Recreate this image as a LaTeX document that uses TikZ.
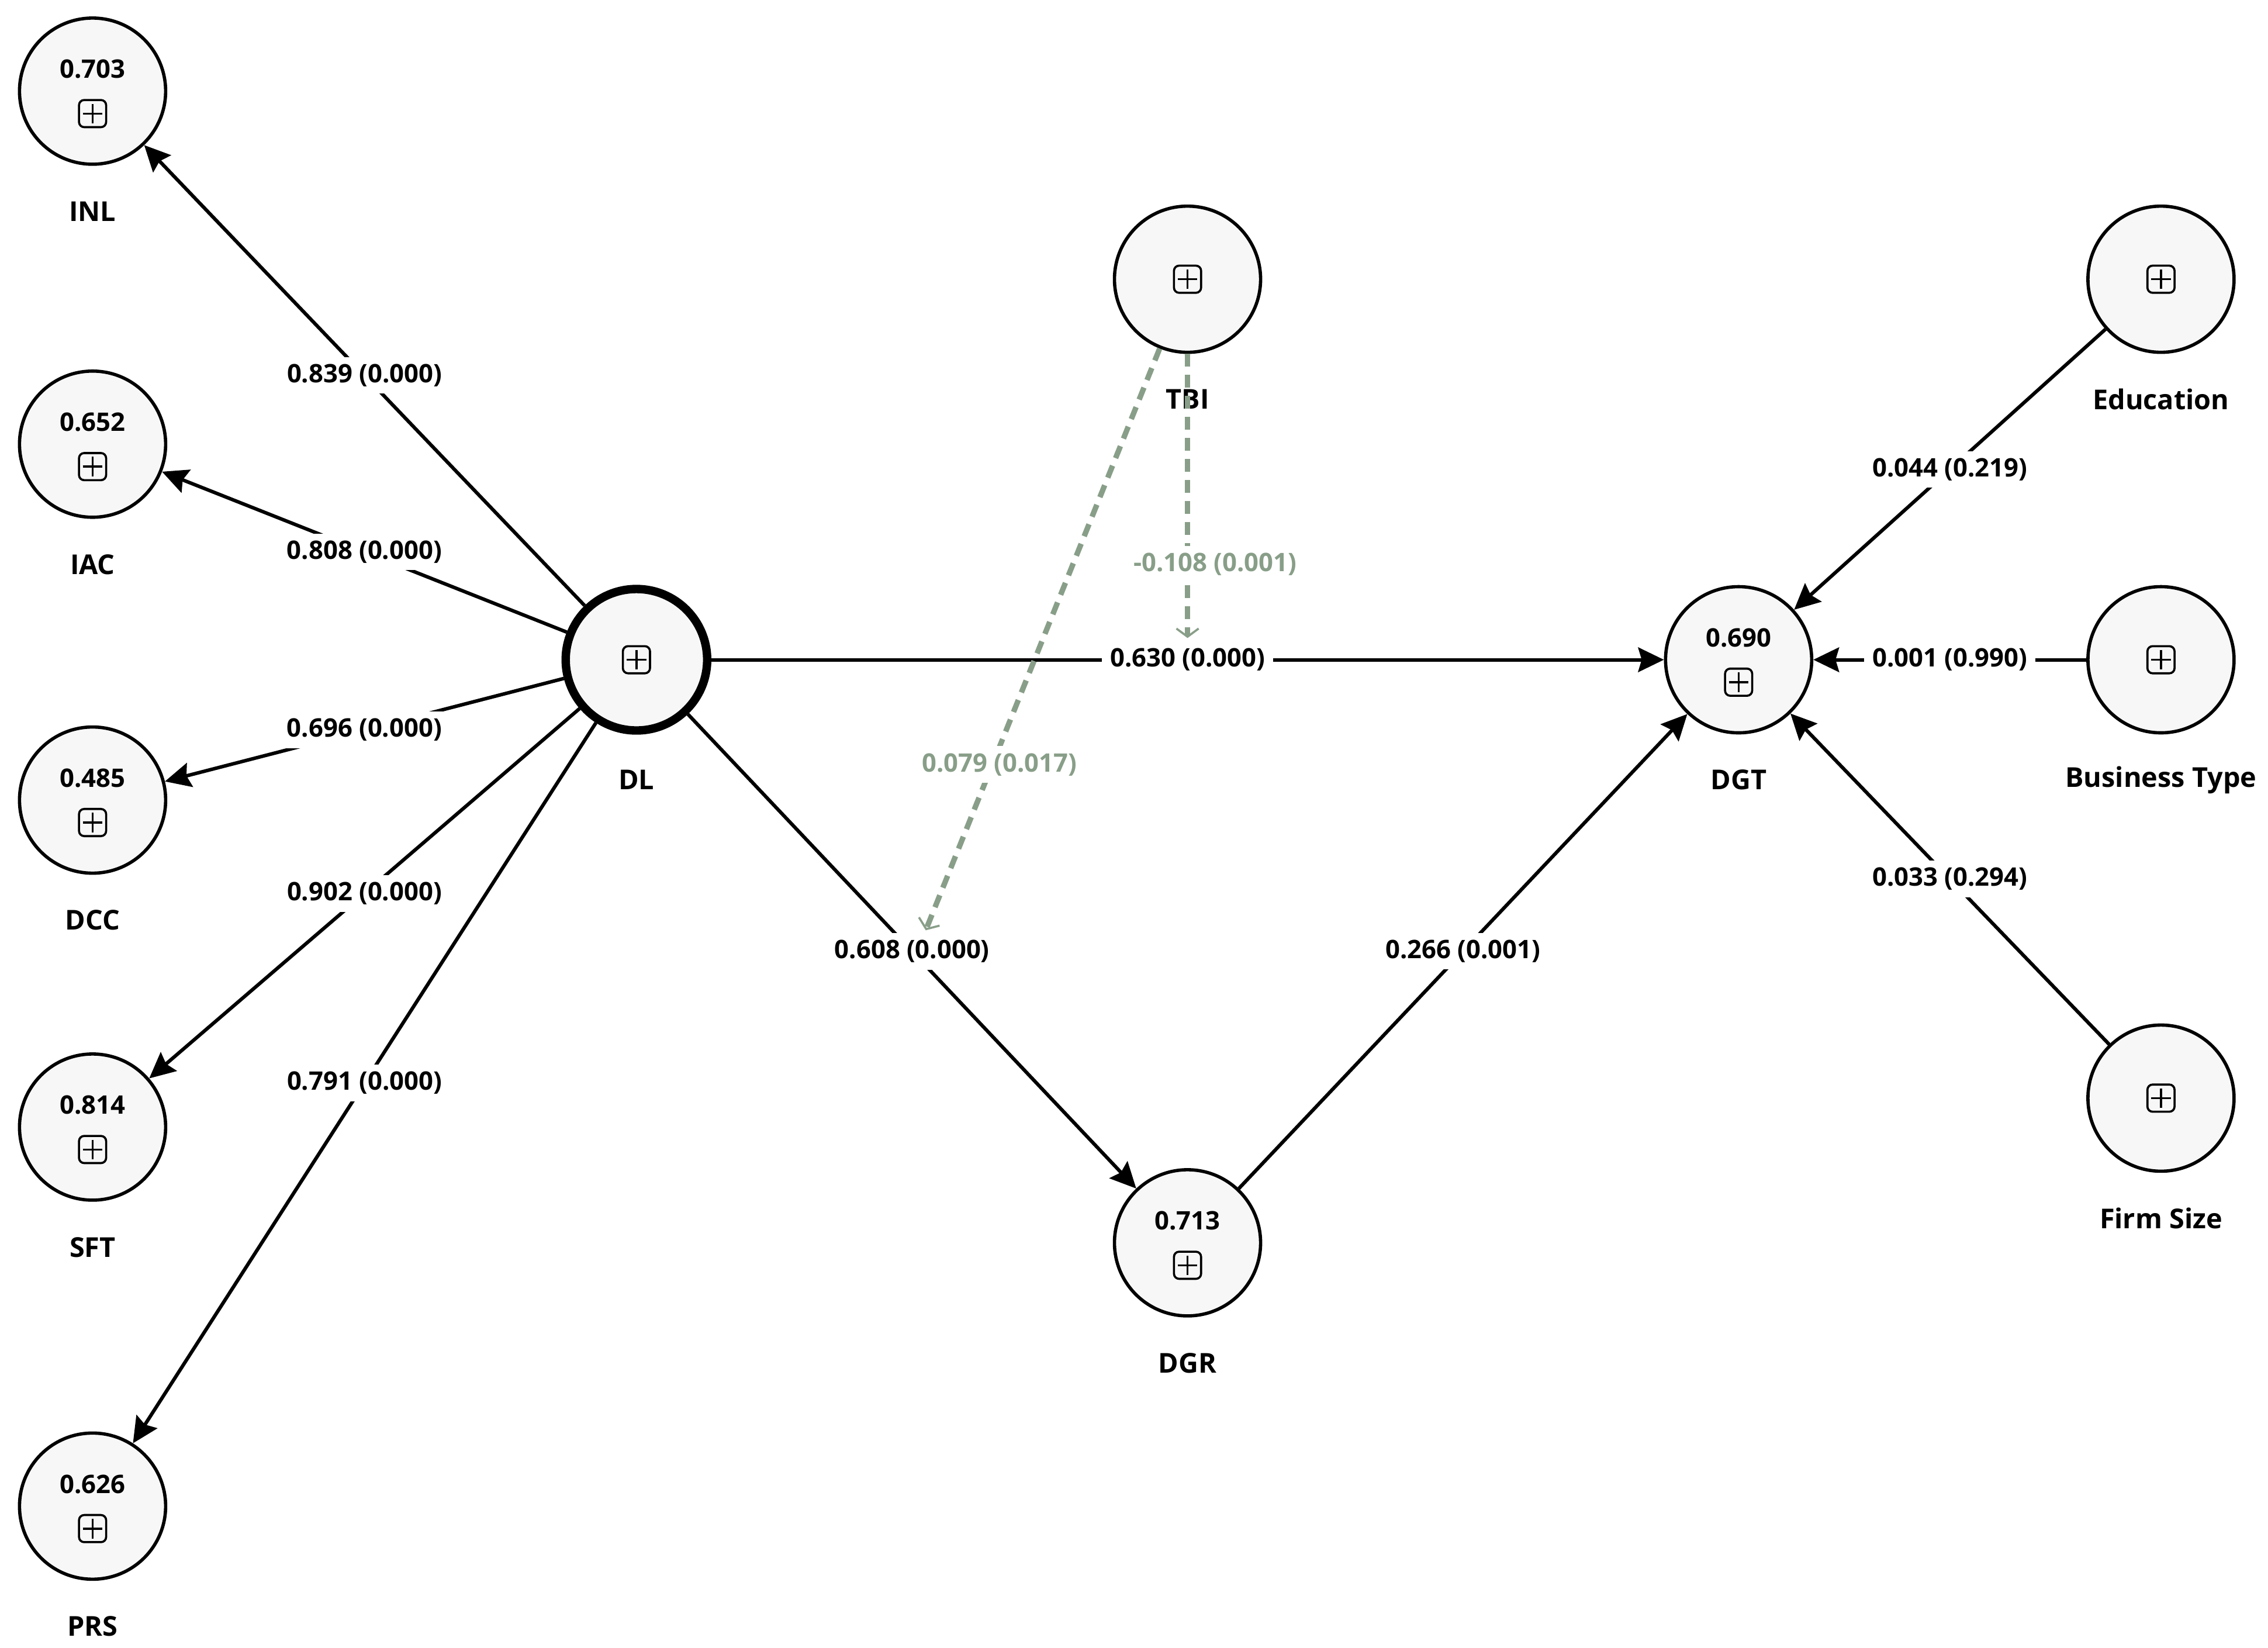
\documentclass[tikz,border=0pt]{standalone}
\usepackage{fontspec}
\setmainfont{Open Sans}
\usetikzlibrary{arrows.meta}
\definecolor{lvfill}{HTML}{F7F7F7}
\definecolor{modgreen}{RGB}{136,158,136}
\tikzset{
  lv/.style={circle, draw, line width=1.4pt, fill=lvfill, minimum size=62.5pt, inner sep=0pt},
  lvthick/.style={lv, line width=3.6pt, minimum size=60.5pt},
  pbox/.style={draw, rounded corners=2.2pt, minimum size=11.6pt, inner sep=0pt, line width=0.9pt,
    path picture={\draw[line width=0.9pt]
      ([xshift=-4.2pt]path picture bounding box.center) -- ([xshift=4.2pt]path picture bounding box.center)
      ([yshift=-4.2pt]path picture bounding box.center) -- ([yshift=4.2pt]path picture bounding box.center);}},
  val/.style={font=\bfseries\fontsize{10.9}{13}\selectfont, inner sep=0pt},
  nm/.style={font=\bfseries\fontsize{11.7}{14}\selectfont, inner sep=0pt},
  elab/.style={font=\bfseries\fontsize{10.9}{13}\selectfont, fill=white, inner xsep=3.5pt, inner ysep=3pt},
  glab/.style={elab, text=modgreen},
  conn/.style={line width=1.5pt, -{Stealth[length=11pt,width=10.5pt,inset=1.5pt]}},
  modline/.style={draw=modgreen, line width=2.3pt, dash pattern=on 5.5pt off 3.5pt,
    -{Straight Barb[length=3.5pt,width=9.5pt,line width=0.9pt]}},
}
\newcommand{\lvval}[5]{%
  \node[lv] (#1) at (#2,#3) {};
  \node[pbox] (#1box) at ([yshift=-9.6pt]#1.center) {};
  \node[val] (#1val) at ([yshift=9.4pt]#1.center) {#4};
  \node[nm] (#1name) at ([yshift=-51.4pt]#1.center) {#5};
}
\newcommand{\lvplain}[4]{%
  \node[lv] (#1) at (#2,#3) {};
  \node[pbox] (#1box) at (#1.center) {};
  \node[nm] (#1name) at ([yshift=-51.4pt]#1.center) {#4};
}
\begin{document}
\begin{tikzpicture}[x=0.6186pt, y=-0.6187pt]
\useasboundingbox (0,0) rectangle (1568,1139);
\fill[white] (0,0) rectangle (1568,1139);

\lvval{INL}{64}{63}{0.703}{INL}
\lvval{IAC}{64}{307}{0.652}{IAC}
\lvval{DCC}{64}{553}{0.485}{DCC}
\lvval{SFT}{64}{779}{0.814}{SFT}
\lvval{PRS}{64}{1041}{0.626}{PRS}
\lvval{DGT}{1202}{456}{0.690}{DGT}
\lvval{DGR}{821}{859}{0.713}{DGR}
\lvplain{TBI}{821}{193}{TBI}
\lvplain{EDU}{1494}{193}{Education}
\lvplain{BT}{1494}{456}{Business Type}
\lvplain{FS}{1494}{759}{Firm Size}

\node[lv, lvthick] (DL) at (440,456) {};
\node[pbox] (DLbox) at (DL.center) {};
\node[nm] (DLname) at ([yshift=-51.4pt]DL.center) {DL};

\draw[conn] (DL) -- node[elab] {0.839 (0.000)} (INL);
\draw[conn] (DL) -- node[elab] {0.808 (0.000)} (IAC);
\draw[conn] (DL) -- node[elab] {0.696 (0.000)} (DCC);
\draw[conn] (DL) -- node[elab] {0.902 (0.000)} (SFT);
\draw[conn] (DL) -- node[elab] {0.791 (0.000)} (PRS);
\draw[conn] (DL) -- node[elab] {0.630 (0.000)} (DGT);
\draw[conn] (DL) -- node[elab] {0.608 (0.000)} (DGR);
\draw[conn] (DGR) -- node[elab] {0.266 (0.001)} (DGT);
\draw[conn] (EDU) -- node[elab] {0.044 (0.219)} (DGT);
\draw[conn] (BT) -- node[elab] {0.001 (0.990)} (DGT);
\draw[conn] (FS) -- node[elab] {0.033 (0.294)} (DGT);

\coordinate (m1) at (821,441);
\coordinate (m2) at (640,643);
\draw[modline] (TBI) -- node[glab, pos=0.74, xshift=11.8pt] {-0.108 (0.001)} (m1);
\draw[modline] (TBI) -- node[glab, pos=0.715, xshift=3pt] {0.079 (0.017)} (m2);
\end{tikzpicture}
\end{document}
